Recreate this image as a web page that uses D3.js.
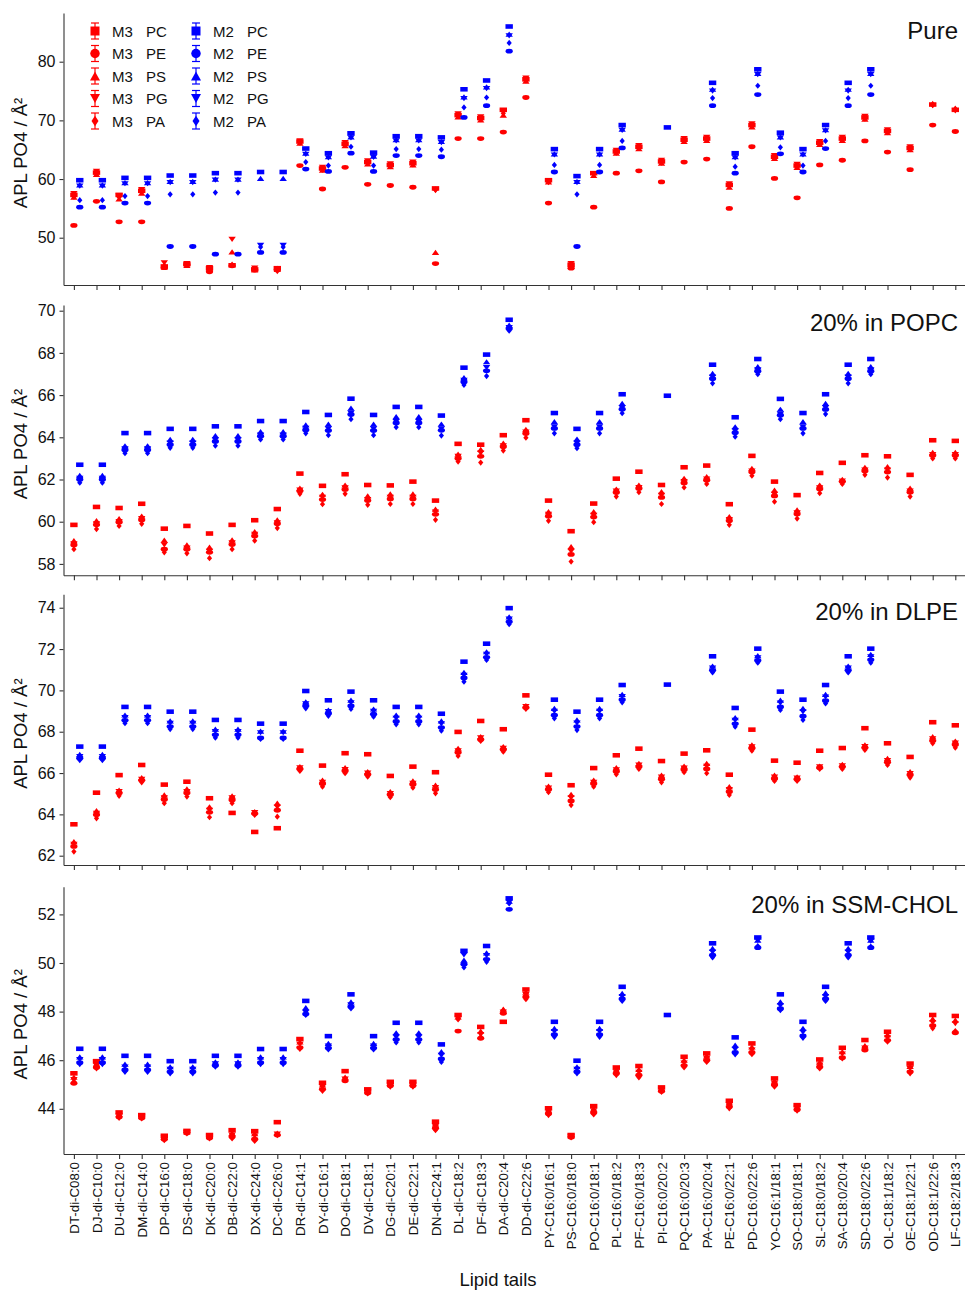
<!DOCTYPE html>
<html>
<head>
<meta charset="utf-8">
<script src="https://cdn.jsdelivr.net/npm/d3@7"></script>
<style>
  body { margin: 0; background: #fff; }
  text { font-family: "Liberation Sans", Arial, sans-serif; fill: #111; }
</style>
</head>
<body>
<svg id="chart" width="965" height="1290"></svg>
<script>
// ---------------- categories ----------------
const categories = [
  "DT-di-C08:0", "DJ-di-C10:0", "DU-di-C12:0", "DM-di-C14:0", "DP-di-C16:0",
  "DS-di-C18:0", "DK-di-C20:0", "DB-di-C22:0", "DX-di-C24:0", "DC-di-C26:0",
  "DR-di-C14:1", "DY-di-C16:1", "DO-di-C18:1", "DV-di-C18:1", "DG-di-C20:1",
  "DE-di-C22:1", "DN-di-C24:1", "DL-di-C18:2", "DF-di-C18:3", "DA-di-C20:4",
  "DD-di-C22:6", "PY-C16:0/16:1", "PS-C16:0/18:0", "PO-C16:0/18:1", "PL-C16:0/18:2",
  "PF-C16:0/18:3", "PI-C16:0/20:2", "PQ-C16:0/20:3", "PA-C16:0/20:4", "PE-C16:0/22:1",
  "PD-C16:0/22:6", "YO-C16:1/18:1", "SO-C18:0/18:1", "SL-C18:0/18:2", "SA-C18:0/20:4",
  "SD-C18:0/22:6", "OL-C18:1/18:2", "OE-C18:1/22:1", "OD-C18:1/22:6", "LF-C18:2/18:3"
];
const headgroups = ["PC", "PE", "PS", "PG", "PA"];
const models = ["M3", "M2"];

// ---------------- Pure ----------------
const pure_M3_PC = [57.3, 61.1, 57.3, 58.0, 45.1, 45.5, 44.8, 45.3, 44.6, 44.8,
  66.4, 61.8, 66.0, 62.9, 62.4, 62.7, 58.4, 70.9, 70.4, 71.8,
  77.0, 59.8, 45.4, 61.0, 64.7, 65.5, 63.0, 66.7, 66.9, 59.0,
  69.2, 63.8, 62.3, 66.2, 66.9, 70.5, 68.2, 65.3, 72.7, 71.8];
const pure_M3_PE = [52.1, 56.2, 52.7, 52.7, 44.9, 45.4, 44.2, 45.2, 44.5, 44.5,
  62.3, 58.3, 62.0, 59.1, 58.9, 58.6, 45.6, 66.9, 66.9, 68.0,
  73.9, 55.9, 44.8, 55.2, 61.0, 61.4, 59.5, 62.9, 63.4, 55.0,
  65.5, 60.1, 56.8, 62.4, 63.2, 66.5, 64.6, 61.6, 69.2, 68.1];
const pure_M3_PS = [56.9, 60.8, 56.6, 57.6, 45.0, 45.3, 44.7, 47.6, 44.5, 44.6,
  66.1, 61.5, 65.7, 62.6, 62.1, 62.4, 47.5, 70.6, 70.1, 70.9,
  76.7, 59.5, 45.2, 60.6, 64.4, 65.2, 62.7, 66.4, 66.6, 58.6,
  68.9, 63.5, 62.0, 65.9, 66.6, 70.2, 67.9, 65.0, 72.9, 72.1];
const pure_M3_PG = [57.5, 61.3, 57.1, 58.2, 45.7, 45.6, 44.9, 49.7, 44.8, 44.2,
  66.5, 62.0, 66.2, 63.1, 62.6, 62.9, 58.0, 71.1, 70.6, 71.5,
  77.2, 59.4, 45.6, 60.7, 64.9, 65.7, 63.2, 66.9, 67.1, 59.2,
  69.4, 64.0, 62.5, 66.4, 67.1, 70.7, 68.4, 65.5, 72.5, 71.6];
const pure_M3_PA = [57.0, 60.9, 56.9, 57.8, 45.2, 45.4, 44.6, 45.4, 44.7, 44.7,
  66.2, 61.6, 65.8, 62.7, 62.2, 62.5, 58.2, 70.7, 70.2, 71.2,
  76.8, 59.6, 45.3, 60.8, 64.5, 65.3, 62.8, 66.5, 66.7, 58.8,
  69.0, 63.6, 62.1, 66.0, 66.7, 70.3, 68.0, 65.1, 72.6, 71.9];
const pure_M2_PC = [59.8, 59.8, 60.2, 60.2, 60.6, 60.6, 61.0, 61.0, 61.2, 61.2,
  65.2, 64.4, 67.8, 64.5, 67.3, 67.3, 67.1, 75.3, 76.8, 86.0,
  null, 65.1, 60.5, 65.1, 69.2, null, 68.8, null, 76.4, 64.4,
  78.7, 67.9, 65.1, 69.2, 76.4, 78.7, null, null, null, null];
const pure_M2_PE = [55.2, 55.2, 55.9, 55.9, 48.5, 48.5, 47.2, 47.2, 47.5, 47.5,
  61.7, 61.3, 64.4, 61.3, 64.0, 64.0, 63.8, 70.5, 72.5, 81.8,
  null, 61.2, 48.5, 61.2, 65.3, null, null, null, 72.5, 61.0,
  74.4, 64.3, 61.2, 65.2, 72.5, 74.4, null, null, null, null];
const pure_M2_PS = [59.0, 59.0, 59.4, 59.4, 59.6, 59.6, 60.0, 60.0, 60.1, 60.1,
  64.4, 63.8, 67.2, 63.9, 66.7, 66.7, 66.4, 74.0, 75.7, 84.7,
  null, 64.3, 59.6, 64.3, 68.5, null, null, null, 75.3, 63.8,
  78.0, 67.2, 64.3, 68.4, 75.3, 78.0, null, null, null, null];
const pure_M2_PG = [58.8, 58.8, 59.2, 59.2, 59.4, 59.4, 59.8, 59.8, 48.7, 48.7,
  64.2, 63.6, 67.0, 63.7, 66.5, 66.5, 66.2, 73.7, 75.4, 84.4,
  null, 64.1, 59.4, 64.1, 68.3, null, null, null, 75.0, 63.6,
  77.8, 67.0, 64.1, 68.2, 75.0, 77.8, null, null, null, null];
const pure_M2_PA = [56.4, 56.4, 57.1, 57.1, 57.4, 57.4, 57.7, 57.7, 48.4, 48.4,
  62.9, 62.3, 65.5, 62.3, 65.1, 65.1, 65.0, 72.2, 73.9, 83.2,
  null, 62.4, 57.4, 62.4, 66.5, null, null, null, 73.8, 62.1,
  75.9, 65.4, 62.3, 66.5, 73.8, 75.9, null, null, null, null];

// ---------------- 20% in POPC ----------------
const popc_M3_PC = [59.85, 60.7, 60.65, 60.85, 59.67, 59.8, 59.44, 59.85, 60.07, 60.6,
  62.28, 61.7, 62.25, 61.74, 61.72, 61.9, 61.0, 63.69, 63.65, 64.1,
  64.81, 61.0, 59.55, 60.86, 62.04, 62.37, 61.74, 62.58, 62.66, 60.83,
  63.12, 61.9, 61.26, 62.31, 62.79, 63.15, 63.1, 62.22, 63.86, 63.83];
const popc_M3_PE = [58.9, 59.85, 59.98, 60.08, 58.7, 58.7, 58.55, 58.92, 59.32, 59.9,
  61.45, 61.05, 61.53, 61.0, 61.08, 61.08, 60.35, 63.0, 63.1, 63.55,
  64.18, 60.26, 58.45, 60.22, 61.38, 61.57, 61.15, 61.84, 61.96, 60.04,
  62.36, 61.22, 60.36, 61.55, 61.9, 62.4, 62.35, 61.4, 63.14, 63.14];
const popc_M3_PS = [59.1, 60.05, 60.15, 60.27, 59.13, 58.9, 58.8, 59.14, 59.53, 60.09,
  61.59, 61.3, 61.74, 61.22, 61.32, 61.32, 60.6, 63.2, 63.43, 63.72,
  64.38, 60.48, 58.82, 60.48, 61.55, 61.74, 61.43, 62.06, 62.14, 60.24,
  62.53, 61.5, 60.56, 61.74, 62.01, 62.58, 62.61, 61.59, 63.29, 63.29];
const popc_M3_PG = [58.95, 59.9, 60.0, 60.15, 58.9, 58.75, 58.6, 59.0, 59.4, 59.95,
  61.5, 61.15, 61.6, 61.05, 61.15, 61.15, 60.45, 63.1, 63.25, 63.6,
  64.25, 60.35, 58.6, 60.3, 61.45, 61.62, 61.25, 61.9, 62.02, 60.1,
  62.4, 61.3, 60.42, 61.6, 61.93, 62.45, 62.45, 61.45, 63.18, 63.18];
const popc_M3_PA = [58.7, 59.65, 59.8, 59.9, 58.55, 58.5, 58.27, 58.7, 59.1, 59.7,
  61.32, 60.83, 61.32, 60.8, 60.84, 60.84, 60.09, 62.85, 62.8, 63.37,
  63.98, 60.04, 58.11, 59.98, 61.19, 61.4, 60.84, 61.62, 61.79, 59.85,
  62.18, 60.95, 60.15, 61.35, 61.79, 62.22, 62.09, 61.19, 63.0, 63.0];
const popc_M2_PC = [62.7, 62.7, 64.2, 64.2, 64.4, 64.4, 64.52, 64.52, 64.77, 64.77,
  65.2, 65.06, 65.83, 65.06, 65.44, 65.44, 65.03, 67.3, 67.92, 69.57,
  null, 65.15, 64.4, 65.15, 66.04, null, 65.97, null, 67.44, 64.95,
  67.71, 65.82, 65.15, 66.04, 67.44, 67.71, null, null, null, null];
const popc_M2_PE = [62.0, 62.0, 63.4, 63.4, 63.65, 63.65, 63.8, 63.8, 64.05, 64.05,
  64.35, 64.32, 65.08, 64.32, 64.68, 64.68, 64.33, 66.62, 67.15, 69.15,
  null, 64.42, 63.65, 64.42, 65.33, null, null, null, 66.78, 64.22,
  67.13, 65.05, 64.42, 65.32, 66.78, 67.13, null, null, null, null];
const popc_M2_PS = [62.2, 62.2, 63.6, 63.6, 63.9, 63.9, 64.08, 64.08, 64.27, 64.27,
  64.59, 64.62, 65.38, 64.62, 64.98, 64.98, 64.63, 66.83, 67.58, 69.32,
  null, 64.74, 63.92, 64.74, 65.61, null, null, null, 67.03, 64.5,
  67.35, 65.33, 64.74, 65.61, 67.03, 67.35, null, null, null, null];
const popc_M2_PG = [62.05, 62.05, 63.45, 63.45, 63.72, 63.72, 63.88, 63.88, 64.1, 64.1,
  64.42, 64.4, 65.15, 64.4, 64.75, 64.75, 64.4, 66.7, 67.3, 69.2,
  null, 64.5, 63.72, 64.5, 65.4, null, null, null, 66.85, 64.3,
  67.2, 65.1, 64.5, 65.4, 66.85, 67.2, null, null, null, null];
const popc_M2_PA = [61.85, 61.85, 63.25, 63.25, 63.5, 63.5, 63.6, 63.6, 63.9, 63.9,
  64.19, 64.1, 64.86, 64.1, 64.48, 64.48, 64.08, 66.48, 66.9, 69.05,
  null, 64.19, 63.48, 64.19, 65.14, null, null, null, 66.56, 64.03,
  66.99, 64.86, 64.19, 65.1, 66.56, 66.99, null, null, null, null];

// ---------------- 20% in DLPE ----------------
const dlpe_M3_PC = [63.52, 65.05, 65.9, 66.39, 65.44, 65.58, 64.78, 64.07, 63.15, 63.33,
  67.08, 66.36, 66.96, 66.91, 65.86, 66.31, 66.04, 67.99, 68.52, 68.12,
  69.76, 65.92, 65.41, 66.24, 66.86, 67.18, 66.58, 66.94, 67.1, 65.92,
  68.1, 66.6, 66.5, 67.08, 67.21, 68.17, 67.44, 66.78, 68.46, 68.31];
const dlpe_M3_PE = [62.45, 63.98, 65.03, 65.65, 64.72, 65.03, 64.1, 64.7, 64.04, 64.2,
  66.2, 65.48, 66.1, 65.93, 64.95, 65.45, 65.2, 67.0, 67.62, 67.14,
  69.17, 65.2, 64.65, 65.48, 66.08, 66.3, 65.7, 66.16, 66.2, 65.1,
  67.2, 65.72, 65.7, 66.26, 66.3, 67.22, 66.52, 65.9, 67.56, 67.37];
const dlpe_M3_PS = [62.68, 64.18, 65.18, 65.78, 64.94, 65.23, 64.37, 64.9, 64.13, 64.54,
  66.31, 65.66, 66.26, 66.07, 65.1, 65.62, 65.42, 67.2, 67.76, 67.28,
  69.26, 65.37, 64.97, 65.66, 66.26, 66.47, 65.9, 66.34, 66.47, 65.34,
  67.36, 65.9, 65.82, 66.34, 66.42, 67.36, 66.71, 66.07, 67.76, 67.55];
const dlpe_M3_PG = [62.55, 64.05, 65.1, 65.7, 64.8, 65.1, 64.2, 64.8, 64.08, 64.35,
  66.25, 65.55, 66.17, 66.0, 65.0, 65.5, 65.3, 67.08, 67.7, 67.2,
  69.22, 65.27, 64.8, 65.55, 66.15, 66.38, 65.8, 66.24, 66.32, 65.2,
  67.27, 65.8, 65.75, 66.3, 66.35, 67.28, 66.6, 65.97, 67.65, 67.45];
const dlpe_M3_PA = [62.2, 63.81, 64.9, 65.55, 64.54, 64.86, 63.86, 64.54, 63.97, 63.89,
  66.1, 65.34, 65.99, 65.82, 64.83, 65.29, 65.02, 66.83, 67.55, 67.03,
  69.1, 65.07, 64.45, 65.34, 65.94, 66.2, 65.55, 66.04, 65.99, 64.94,
  67.08, 65.62, 65.62, 66.2, 66.2, 67.12, 66.39, 65.78, 67.44, 67.23];
const dlpe_M2_PC = [67.28, 67.28, 69.2, 69.2, 68.97, 68.97, 68.57, 68.57, 68.39, 68.39,
  69.97, 69.52, 69.94, 69.52, 69.2, 69.2, 68.87, 71.39, 72.26, 73.98,
  null, 69.55, 68.97, 69.55, 70.26, null, 70.28, null, 71.65, 69.15,
  72.02, 69.94, 69.55, 70.26, 71.65, 72.02, null, null, null, null];
const dlpe_M2_PE = [66.72, 66.72, 68.55, 68.55, 68.25, 68.25, 67.85, 67.85, 67.7, 67.7,
  69.25, 68.88, 69.25, 68.85, 68.5, 68.5, 68.2, 70.6, 71.6, 73.32,
  null, 68.8, 68.25, 68.8, 69.55, null, null, null, 70.97, 68.38,
  71.45, 69.2, 68.75, 69.5, 70.97, 71.48, null, null, null, null];
const dlpe_M2_PS = [66.9, 66.9, 68.81, 68.81, 68.52, 68.52, 68.13, 68.13, 68.03, 68.03,
  69.45, 69.05, 69.53, 69.1, 68.81, 68.81, 68.52, 70.87, 71.87, 73.56,
  null, 69.13, 68.57, 69.13, 69.81, null, null, null, 71.18, 68.68,
  71.68, 69.53, 69.13, 69.81, 71.18, 71.74, null, null, null, null];
const dlpe_M2_PG = [66.8, 66.8, 68.68, 68.68, 68.4, 68.4, 68.0, 68.0, 67.95, 67.95,
  69.35, 68.97, 69.4, 68.98, 68.65, 68.65, 68.38, 70.73, 71.75, 73.45,
  null, 68.98, 68.42, 68.98, 69.7, null, null, null, 71.08, 68.55,
  71.58, 69.38, 68.96, 69.68, 71.08, 71.62, null, null, null, null];
const dlpe_M2_PA = [66.63, 66.63, 68.41, 68.41, 68.13, 68.13, 67.71, 67.71, 67.65, 67.65,
  69.13, 68.77, 69.1, 68.73, 68.36, 68.36, 68.05, 70.42, 71.47, 73.2,
  null, 68.65, 68.08, 68.65, 69.42, null, null, null, 70.87, 68.24,
  71.34, 69.05, 68.57, 69.37, 70.87, 71.34, null, null, null, null];

// ---------------- 20% in SSM-CHOL ----------------
const ssm_M3_PC = [45.46, 45.96, 43.85, 43.74, 42.89, 43.09, 42.92, 43.12, 43.08, 43.45,
  46.87, 45.07, 45.55, 44.80, 45.11, 45.11, 43.47, 47.86, 47.37, 47.58,
  48.91, 44.02, 42.92, 44.11, 45.70, 45.76, 44.88, 46.14, 46.28, 44.33,
  46.69, 45.25, 44.15, 46.03, 46.51, 46.83, 47.17, 45.86, 47.86, 47.82];
const ssm_M3_PE = [45.05, 45.7, 43.66, 43.62, 42.75, 43.0, 42.8, 42.85, 42.75, 42.92,
  46.52, 44.8, 45.15, 44.65, 44.95, 44.95, 43.2, 47.20, 46.90, 47.93,
  48.6, 43.8, 42.83, 43.84, 45.45, 45.38, 44.72, 45.78, 46.0, 44.08,
  46.32, 44.98, 43.96, 45.72, 46.1, 46.42, 46.82, 45.52, 47.42, 47.13];
const ssm_M3_PS = [45.30, 45.85, 43.78, 43.70, 42.84, 43.05, 42.88, 43.0, 42.98, 43.0,
  46.75, 44.98, 45.3, 44.75, 45.05, 45.05, 43.38, 47.78, 47.2, 48.10,
  48.8, 43.95, 42.88, 44.0, 45.6, 45.62, 44.84, 46.0, 46.18, 44.25,
  46.55, 45.15, 44.08, 45.92, 46.35, 46.6, 47.05, 45.75, 47.7, 47.65];
const ssm_M3_PG = [45.2, 45.78, 43.72, 43.67, 42.8, 43.02, 42.84, 42.92, 42.88, 42.96,
  46.65, 44.9, 45.22, 44.7, 45.0, 45.0, 43.28, 47.72, 47.05, 47.98,
  48.7, 43.88, 42.86, 43.92, 45.52, 45.5, 44.78, 45.88, 46.08, 44.15,
  46.42, 45.05, 44.02, 45.8, 46.25, 46.5, 46.92, 45.65, 47.55, 47.5];
const ssm_M3_PA = [45.12, 45.66, 43.63, 43.6, 42.71, 42.99, 42.78, 42.78, 42.68, 42.92,
  46.46, 44.74, 45.18, 44.63, 44.91, 44.91, 43.12, 47.68, 46.95, 48.05,
  48.51, 43.74, 42.82, 43.77, 45.39, 45.29, 44.70, 45.70, 45.93, 44.02,
  46.25, 44.91, 43.92, 45.66, 46.07, 46.45, 46.76, 45.46, 47.31, 47.2];
const ssm_M2_PC = [46.47, 46.47, 46.18, 46.18, 45.96, 45.96, 46.18, 46.18, 46.46, 46.46,
  48.44, 46.99, 48.71, 46.99, 47.54, 47.54, 46.65, 50.50, 50.70, 52.66,
  null, 47.58, 45.98, 47.58, 49.02, null, 47.86, null, 50.81, 46.94,
  51.05, 48.71, 47.58, 49.02, 50.81, 51.05, null, null, null, null];
const ssm_M2_PE = [45.9, 45.9, 45.6, 45.6, 45.52, 45.52, 45.78, 45.78, 45.9, 45.9,
  47.9, 46.5, 48.2, 46.5, 46.85, 46.85, 46.05, 49.95, 50.15, 52.21,
  null, 47.05, 45.52, 47.05, 48.52, null, null, null, 50.32, 46.32,
  50.63, 48.12, 47.0, 48.52, 50.32, 50.63, null, null, null, null];
const ssm_M2_PS = [46.14, 46.14, 45.84, 45.84, 45.73, 45.73, 45.93, 45.93, 46.14, 46.14,
  48.16, 46.69, 48.40, 46.69, 47.13, 47.13, 46.35, 50.12, 50.42, 52.55,
  null, 47.31, 45.73, 47.31, 48.75, null, null, null, 50.60, 46.62,
  50.94, 48.40, 47.31, 48.77, 50.60, 50.94, null, null, null, null];
const ssm_M2_PG = [46.02, 46.02, 45.72, 45.72, 45.62, 45.62, 45.85, 45.85, 46.02, 46.02,
  47.97, 46.58, 48.28, 46.58, 46.95, 46.95, 46.2, 50.33, 50.3, 52.5,
  null, 47.18, 45.62, 47.18, 48.62, null, null, null, 50.45, 46.45,
  50.94, 48.25, 47.15, 48.62, 50.45, 50.9, null, null, null, null];
const ssm_M2_PA = [45.84, 45.84, 45.52, 45.52, 45.46, 45.46, 45.73, 45.73, 45.84, 45.84,
  47.86, 46.44, 48.13, 46.44, 46.73, 46.73, 45.93, 49.82, 50.05, 52.45,
  null, 46.96, 45.46, 46.96, 48.44, null, null, null, 50.23, 46.24,
  50.7, 48.06, 46.92, 48.44, 50.23, 50.68, null, null, null, null];

// ---------------- panel layout ----------------
const panels = [
  { title: "Pure", top: 13, bottom: 285, domain: [41.94, 88.3], ticks: [50, 60, 70, 80],
    series: { M3: { PC: pure_M3_PC, PE: pure_M3_PE, PS: pure_M3_PS, PG: pure_M3_PG, PA: pure_M3_PA },
              M2: { PC: pure_M2_PC, PE: pure_M2_PE, PS: pure_M2_PS, PG: pure_M2_PG, PA: pure_M2_PA } } },
  { title: "20% in POPC", top: 305, bottom: 575.3, domain: [57.46, 70.27], ticks: [58, 60, 62, 64, 66, 68, 70],
    series: { M3: { PC: popc_M3_PC, PE: popc_M3_PE, PS: popc_M3_PS, PG: popc_M3_PG, PA: popc_M3_PA },
              M2: { PC: popc_M2_PC, PE: popc_M2_PE, PS: popc_M2_PS, PG: popc_M2_PG, PA: popc_M2_PA } } },
  { title: "20% in DLPE", top: 594.3, bottom: 865, domain: [61.55, 74.65], ticks: [62, 64, 66, 68, 70, 72, 74],
    series: { M3: { PC: dlpe_M3_PC, PE: dlpe_M3_PE, PS: dlpe_M3_PS, PG: dlpe_M3_PG, PA: dlpe_M3_PA },
              M2: { PC: dlpe_M2_PC, PE: dlpe_M2_PE, PS: dlpe_M2_PS, PG: dlpe_M2_PG, PA: dlpe_M2_PA } } },
  { title: "20% in SSM-CHOL", top: 886.7, bottom: 1154, domain: [42.14, 53.14], ticks: [44, 46, 48, 50, 52],
    series: { M3: { PC: ssm_M3_PC, PE: ssm_M3_PE, PS: ssm_M3_PS, PG: ssm_M3_PG, PA: ssm_M3_PA },
              M2: { PC: ssm_M2_PC, PE: ssm_M2_PE, PS: ssm_M2_PS, PG: ssm_M2_PG, PA: ssm_M2_PA } } }
];

const colors = { M3: "#ff0000", M2: "#0000ff" };
const shapeOf = { PC: "square", PE: "circle", PS: "triUp", PG: "triDown", PA: "diamond" };
const modelShift = { M3: 0, M2: 0.26 };

// marker outline of width w and height h, centred on 0,0
function markerPath(shape, w, h) {
  const a = w / 2, b = h / 2;
  switch (shape) {
    case "square": return `M${-a},${-b}H${a}V${b}H${-a}Z`;
    case "circle": return `M${-a},0A${a},${b} 0 1,0 ${a},0A${a},${b} 0 1,0 ${-a},0Z`;
    case "triUp": return `M0,${-b}L${a},${b}L${-a},${b}Z`;
    case "triDown": return `M0,${b}L${a},${-b}L${-a},${-b}Z`;
    case "diamond": return `M0,${-b}L${a},0L0,${b}L${-a},0Z`;
  }
}
const dataSize = { square: [7.4, 4.6], circle: [7.2, 4.8], triUp: [7.4, 5.2], triDown: [7.4, 5.2], diamond: [5.2, 6.2] };
const legendSize = { square: [9, 9], circle: [9.5, 9.5], triUp: [10, 9], triDown: [10, 9], diamond: [7, 10.5] };

const svg = d3.select("#chart");
svg.append("rect").attr("width", 965).attr("height", 1290).attr("fill", "#fff");

const x = d3.scaleLinear().domain([-0.46, 39.46]).range([63.5, 965.7]);

panels.forEach((p, pi) => {
  const y = d3.scaleLinear().domain(p.domain).range([p.bottom, p.top]);
  const g = svg.append("g");
  const isLast = pi === panels.length - 1;

  // y axis
  const yAxis = g.append("g").attr("transform", "translate(63.5,0)")
    .call(d3.axisLeft(y).tickValues(p.ticks).tickSize(4).tickSizeOuter(0).tickPadding(4));
  yAxis.selectAll("text").style("font-size", "16px").style("font-family", "Liberation Sans, Arial, sans-serif").attr("fill", "#111");
  yAxis.selectAll("line, path").attr("stroke", "#333").attr("stroke-width", 1.1);

  // x axis
  const xAxis = g.append("g").attr("transform", `translate(0,${p.bottom})`)
    .call(d3.axisBottom(x).tickValues(d3.range(categories.length)).tickSize(5).tickSizeOuter(0)
      .tickFormat(i => isLast ? categories[i] : ""));
  xAxis.selectAll("line, path").attr("stroke", "#333").attr("stroke-width", 1.1);
  if (isLast) {
    xAxis.selectAll("text")
      .attr("transform", "rotate(-90)")
      .attr("x", -8).attr("y", 0).attr("dy", "0.35em")
      .style("text-anchor", "end")
      .style("font-size", "13.3px")
      .style("font-family", "Liberation Sans, Arial, sans-serif")
      .attr("fill", "#111");
  }

  // y axis title
  g.append("text")
    .attr("transform", `translate(27,${(p.top + p.bottom) / 2 + 4}) rotate(-90)`)
    .attr("text-anchor", "middle")
    .style("font-size", "18.5px")
    .text("APL PO4 / Å²");

  // panel title
  g.append("text")
    .attr("x", 958).attr("y", p.top + 26)
    .attr("text-anchor", "end")
    .style("font-size", "24px")
    .text(p.title);

  // markers: all M3 series first, then all M2 series
  models.forEach(m => {
    headgroups.forEach(hg => {
      const vals = p.series[m][hg];
      const shape = shapeOf[hg];
      const [w, h] = dataSize[shape];
      g.append("g").selectAll("path")
        .data(vals.map((v, i) => ({ i, v })).filter(d => d.v !== null))
        .join("path")
        .attr("transform", d => `translate(${x(d.i + modelShift[m])},${y(d.v)})`)
        .attr("d", markerPath(shape, w, h))
        .attr("fill", colors[m]);
    });
  });
});

// x axis title
svg.append("text")
  .attr("x", 498).attr("y", 1286)
  .attr("text-anchor", "middle")
  .style("font-size", "18.5px")
  .text("Lipid tails");

// legend (two columns: M3 then M2)
const legend = svg.append("g");
const rowY = [31, 53.5, 76, 98.5, 121];
const colX = { M3: 95, M2: 196 };
models.forEach(m => {
  headgroups.forEach((hg, r) => {
    const cx = colX[m], cy = rowY[r];
    const shape = shapeOf[hg];
    const [w, h] = legendSize[shape];
    const lg = legend.append("g").attr("transform", `translate(${cx},${cy})`);
    lg.append("line").attr("x1", 0).attr("x2", 0).attr("y1", -8).attr("y2", 8)
      .attr("stroke", colors[m]).attr("stroke-width", 1.2);
    [-8, 8].forEach(cyy => lg.append("line").attr("x1", -4).attr("x2", 4).attr("y1", cyy).attr("y2", cyy)
      .attr("stroke", colors[m]).attr("stroke-width", 1.2));
    lg.append("path").attr("d", markerPath(shape, w, h)).attr("fill", colors[m]);
    legend.append("text").attr("x", cx + 17).attr("y", cy + 5.5)
      .style("font-size", "15px").text(m);
    legend.append("text").attr("x", cx + 51).attr("y", cy + 5.5)
      .style("font-size", "15px").text(hg);
  });
});
</script>
</body>
</html>
